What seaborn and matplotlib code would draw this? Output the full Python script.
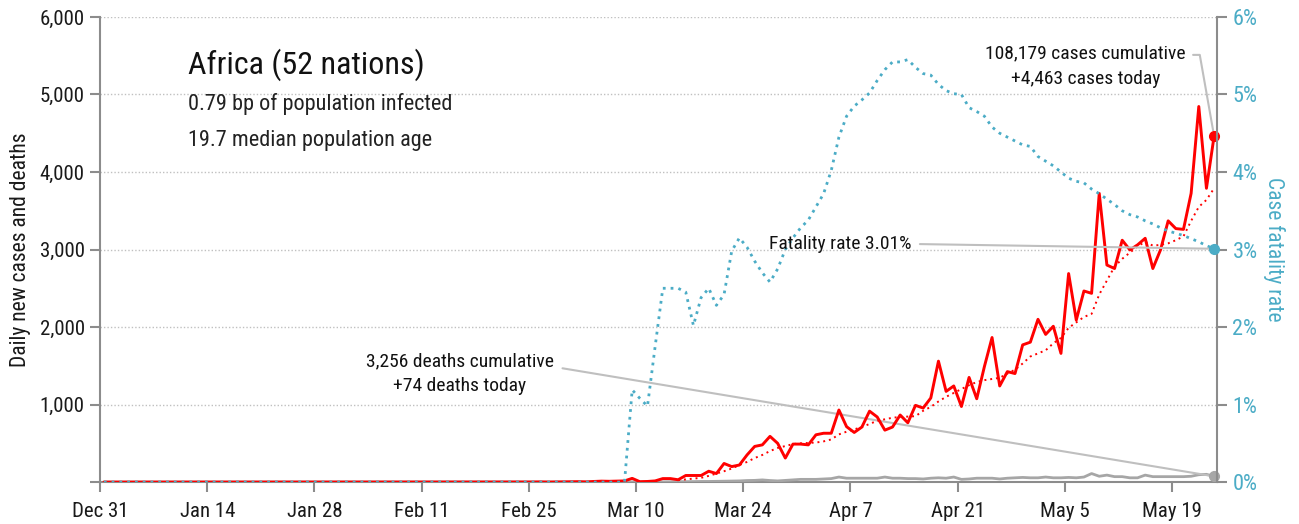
import matplotlib
matplotlib.use("Agg")
import matplotlib.pyplot as plt
from matplotlib import font_manager
import numpy as np
import pandas as pd
import seaborn as sns

# day 0 = Dec 31, last day = May 24
n_days = 146
tick_labels = ["Dec 31", "Jan 14", "Jan 28", "Feb 11", "Feb 25", "Mar 10",
               "Mar 24", "Apr 7", "Apr 21", "May 5", "May 19"]

# daily new cases, starting at day 44 (zeros before)
cases_start = 44
cases_tail = [
    0, 1, 0, 0, 0, 0, 0, 0, 0, 0, 0, 0, 1, 2, 0, 1, 2, 3, 5, 2, 8, 12, 10, 12, 15,
    48, 5, 8, 15, 45, 45, 30, 85, 85, 85, 140, 110, 240, 200, 220, 350, 460, 480,
    590, 500, 310, 490, 490, 480, 610, 630, 630, 930, 715, 640, 710, 915, 840, 670,
    710, 865, 765, 990, 955, 1085, 1560, 1170, 1240, 975, 1350, 1075, 1490, 1865,
    1240, 1425, 1400, 1770, 1805, 2100, 1905, 2010, 1660, 2690, 2090, 2465, 2435,
    3725, 2800, 2755, 3120, 2995, 3060, 3145, 2755, 2995, 3370, 3270, 3260, 3725,
    4845, 3790, 4463,
]

# smoothed cases (dotted red), starting at day 75
avg_start = 75
avg_tail = [
    25, 35, 45, 55, 80, 110, 140, 175, 220, 260, 310, 350, 400, 440, 465, 490,
    500, 505, 510, 525, 550, 615, 650, 680, 710, 750, 790, 810, 830, 840, 845,
    850, 920, 970, 1040, 1100, 1150, 1200, 1250, 1290, 1315, 1330, 1345, 1400,
    1450, 1530, 1620, 1660, 1700, 1790, 1860, 1990, 2060, 2130, 2170, 2420, 2600,
    2780, 2880, 2960, 3040, 3100, 3050, 3060, 3080, 3120, 3170, 3370, 3550, 3640,
    3790,
]

# daily deaths, starting at day 68
deaths_start = 68
deaths_tail = [
    1, 2, 1, 2, 3, 2, 4, 5, 5, 6, 8, 8, 10, 12, 14, 15, 20, 22, 28, 20, 15, 22,
    30, 35, 35, 35, 40, 45, 65, 50, 50, 50, 50, 50, 65, 50, 50, 45, 45, 40, 50,
    55, 50, 65, 35, 40, 50, 50, 50, 40, 50, 55, 60, 55, 55, 65, 55, 55, 60, 55,
    65, 110, 75, 90, 70, 70, 55, 55, 90, 70, 70, 70, 70, 70, 75, 95, 100, 74,
]

# case fatality rate in %, starting at day 68
cfr_start = 68
cfr_tail = [
    0.0, 1.19, 1.08, 0.98, 1.75, 2.50, 2.50, 2.50, 2.45, 2.02, 2.38, 2.50, 2.28,
    2.42, 2.98, 3.15, 3.03, 2.85, 2.70, 2.58, 2.75, 3.00, 3.15, 3.28, 3.38, 3.55,
    3.72, 4.02, 4.45, 4.72, 4.85, 4.93, 5.02, 5.18, 5.32, 5.42, 5.42, 5.45, 5.35,
    5.27, 5.25, 5.13, 5.05, 5.01, 5.00, 4.83, 4.78, 4.72, 4.58, 4.50, 4.45, 4.40,
    4.35, 4.33, 4.20, 4.14, 4.08, 4.00, 3.92, 3.88, 3.86, 3.78, 3.72, 3.65, 3.58,
    3.50, 3.45, 3.42, 3.37, 3.33, 3.28, 3.24, 3.21, 3.18, 3.14, 3.10, 3.05, 3.01,
]

RED = "#ff0000"
BLUE = "#4bacc6"
GREY = "#a6a6a6"
AXIS = "#8c8c8c"
LEADER = "#bfbfbf"


def pick_font(candidates):
    names = {f.name for f in font_manager.fontManager.ttflist}
    return [c for c in candidates if c in names] + ["DejaVu Sans"]


def pad_series(start, tail):
    values = np.zeros(n_days)
    values[start:start + len(tail)] = tail
    return values


sns.set_theme(style="white")
plt.rcParams["font.family"] = pick_font(["Roboto Condensed", "Liberation Sans Narrow",
                                         "DejaVu Sans Condensed", "Liberation Sans"])

days = np.arange(n_days) + 0.5  # daily values sit mid-day
df = pd.DataFrame({
    "day": days,
    "cases": pad_series(cases_start, cases_tail),
    "deaths": pad_series(deaths_start, deaths_tail),
    "cfr": pad_series(cfr_start, cfr_tail),
})
avg_df = pd.DataFrame({
    "day": np.arange(avg_start, avg_start + len(avg_tail)) + 0.5,
    "avg": avg_tail,
})

fig = plt.figure(figsize=(12.99, 5.24), dpi=100)
ax = fig.add_axes([0.077, 0.080, 0.860, 0.8876])
ax2 = ax.twinx()

sns.lineplot(data=df, x="day", y="deaths", ax=ax, color=GREY, linewidth=2.0, zorder=3)
sns.lineplot(data=avg_df, x="day", y="avg", ax=ax, color=RED, linewidth=1.4,
             linestyle=(0, (1, 2)), zorder=4)
sns.lineplot(data=df, x="day", y="cases", ax=ax, color=RED, linewidth=2.1, zorder=5)
sns.lineplot(data=df, x="day", y="cfr", ax=ax2, color=BLUE, linewidth=2.0,
             linestyle=(0, (1, 1.8)), zorder=3)

last = df.iloc[-1]
ax.plot(last["day"], last["cases"], "o", color=RED, markersize=7, zorder=6, clip_on=False)
ax.plot(last["day"], last["deaths"], "o", color=GREY, markersize=7, zorder=6, clip_on=False)
ax2.plot(last["day"], last["cfr"], "o", color=BLUE, markersize=7, zorder=6, clip_on=False)

ax.set_xlim(0, 145.9)
ax.set_ylim(0, 6000)
ax2.set_ylim(0, 6)

ax.set_xticks(np.arange(0, 141, 14))
ax.set_xticklabels(tick_labels)
ax.set_yticks(np.arange(0, 6001, 1000))
ax.set_yticklabels([""] + [f"{v:,}" for v in range(1000, 6001, 1000)])
ax2.set_yticks(np.arange(0, 7))
ax2.set_yticklabels([f"{v}%" for v in range(7)])

ax.yaxis.grid(True, color="#c0c0c0", linestyle=(0, (1, 1.5)), linewidth=1.0)
ax.xaxis.grid(False)
ax2.grid(False)

for a in (ax, ax2):
    a.spines["top"].set_visible(False)
    for side in ("left", "right", "bottom"):
        a.spines[side].set_color(AXIS)
        a.spines[side].set_linewidth(1.5)
ax.spines["right"].set_visible(False)
ax2.spines["left"].set_visible(False)
ax2.spines["bottom"].set_visible(False)

ax.tick_params(axis="both", direction="out", length=7, width=1.5, color=AXIS,
               labelsize=15, labelcolor="#1a1a1a", pad=4, left=True, bottom=True)
ax.tick_params(axis="x", pad=7)
ax2.tick_params(axis="y", direction="out", length=7, width=1.5, color=AXIS,
                labelsize=16, labelcolor=BLUE, pad=4, right=True)

ax.set_xlabel("")
ax.set_ylabel("Daily new cases and deaths", fontsize=15.5, color="#1a1a1a", labelpad=6)
ax2.set_ylabel("Case fatality rate", fontsize=15.5, color=BLUE, rotation=270, labelpad=20)

ax.text(0.079, 0.897, "Africa (52 nations)", transform=ax.transAxes, fontsize=23,
        color="#111111", va="center", ha="left")
ax.text(0.079, 0.813, "0.79 bp of population infected", transform=ax.transAxes,
        fontsize=16, color="#222222", va="center", ha="left")
ax.text(0.079, 0.735, "19.7 median population age", transform=ax.transAxes,
        fontsize=16, color="#222222", va="center", ha="left")

ax.annotate("108,179 cases cumulative\n+4,463 cases today",
            xy=(last["day"], last["cases"]), xytext=(0.882, 0.895),
            textcoords=ax.transAxes, ha="center", va="center", fontsize=14,
            color="#111111", linespacing=1.55,
            arrowprops=dict(arrowstyle="-", color=LEADER, linewidth=1.5,
                            relpos=(1.0, 0.75), shrinkA=3, shrinkB=4,
                            connectionstyle="angle,angleA=0,angleB=100,rad=0"))
ax2.annotate("Fatality rate 3.01%", xy=(last["day"], last["cfr"]),
             xytext=(0.726, 0.512), textcoords=ax.transAxes, ha="right", va="center",
             fontsize=14, color="#111111",
             arrowprops=dict(arrowstyle="-", color=LEADER, linewidth=1.5,
                             relpos=(1.0, 0.5), shrinkA=4, shrinkB=4))
ax.annotate("3,256 deaths cumulative\n+74 deaths today",
            xy=(last["day"], last["deaths"]), xytext=(0.322, 0.233),
            textcoords=ax.transAxes, ha="center", va="center", fontsize=14,
            color="#111111", linespacing=1.5,
            arrowprops=dict(arrowstyle="-", color=LEADER, linewidth=1.5,
                            relpos=(1.0, 0.66), shrinkA=4, shrinkB=4))

fig.savefig("out.png", dpi=100)
